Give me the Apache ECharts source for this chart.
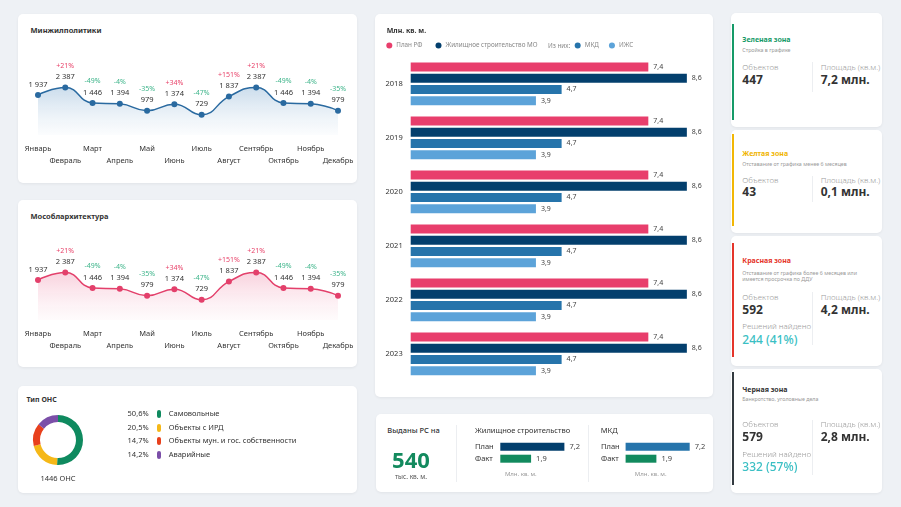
<!DOCTYPE html>
<html><head><meta charset="utf-8">
<script src="https://cdn.jsdelivr.net/npm/echarts@6/dist/echarts.min.js"></script>
<style>
html,body{margin:0;padding:0;width:901px;height:507px;overflow:hidden;background:#eef1f5;font-family:'Noto Sans',sans-serif;color:#333;}
.card{position:absolute;background:#fff;border-radius:5px;box-shadow:0 1px 3px rgba(0,0,0,0.06);}
.ch{position:absolute;}
</style></head>
<body>
<script>
// ---------- DATA ----------
const months = ['Январь','Февраль','Март','Апрель','Май','Июнь','Июль','Август','Сентябрь','Октябрь','Ноябрь','Декабрь'];
const minjilValues = [1937,2387,1446,1394,979,1374,729,1837,2387,1446,1394,979];
const minjilChanges = ['','+21%','-49%','-4%','-35%','+34%','-47%','+151%','+21%','-49%','-4%','-35%'];
const mosoblValues = [1937,2387,1446,1394,979,1374,729,1837,2387,1446,1394,979];
const mosoblChanges = ['','+21%','-49%','-4%','-35%','+34%','-47%','+151%','+21%','-49%','-4%','-35%'];

const onsNames = ['Самовольные','Объекты с ИРД','Объекты мун. и гос. собственности','Аварийные'];
const onsShares = [50.6,20.5,14.7,14.2];
const onsTotal = 1446;

const years = ['2018','2019','2020','2021','2022','2023'];
const planRF = [7.4,7.4,7.4,7.4,7.4,7.4];
const housingMO = [8.6,8.6,8.6,8.6,8.6,8.6];
const mkd = [4.7,4.7,4.7,4.7,4.7,4.7];
const izhs = [3.9,3.9,3.9,3.9,3.9,3.9];

const rsIssued = 540;
const pfLabels = ['План','Факт'];
const housingPlanFact = [7.2,1.9];
const mkdPlanFact = [7.2,1.9];

const zoneNames = ['Зеленая зона','Желтая зона','Красная зона','Черная зона'];
const zoneDescs = ['Стройка в графике','Отставание от графика менее 6 месяцев','Отставание от графика более 6 месяцев или\nимеется просрочка по ДДУ','Банкротство, уголовные дела'];
const zoneObjects = ['447','43','592','579'];
const zoneAreas = ['7,2 млн.','0,1 млн.','4,2 млн.','2,8 млн.'];
const zoneSolutions = ['','','244 (41%)','332 (57%)'];

// ---------- HELPERS ----------
const FF = "'Noto Sans',sans-serif";
function box(cls,x,y,w,h,extra){const d=document.createElement('div');d.className=cls;d.style.cssText+=`left:${x}px;top:${y}px;width:${w}px;height:${h}px;`+(extra||'');document.body.appendChild(d);return d;}
function T(x,y,txt,css,anchor){const d=document.createElement('div');d.textContent=txt;d.style.cssText='position:absolute;white-space:pre;line-height:1;'+(css||'');d.style.left=x+'px';d.style.top=y+'px';d.style.transform=`translate(${anchor==='c'?'-50%':anchor==='r'?'-100%':'0'},-50%)`;document.body.appendChild(d);return d;}
const fmtInt = v => String(v).replace(/\B(?=(\d{3})+(?!\d))/g,' ');
const fmtDec = v => String(v).replace('.',',');

// ---------- CARDS ----------
box('card',18,14,339,169);
box('card',18,200,339,167);
box('card',18,386,339,107);
box('card',375,14,338,383);
box('card',376,414,337,78);
const rc=[[13,127],[130,233],[236,366],[369,493]];
const rs=[[24,120],[134,226],[243,357],[372,485]];
const zoneColors=['#159a68','#f2b705','#e5352b','#333a40'];
rc.forEach((r,i)=>{box('card',731,r[0],151,r[1]-r[0]);box('ch',731.5,rs[i][0],2,rs[i][1]-rs[i][0],'background:'+zoneColors[i]+';');});

// ---------- LINE CHARTS ----------
function lineChart(top,h,vals,chg,color,aTop,aBot){
  const el=box('ch',18,top,339,h);
  const c=echarts.init(el,null,{renderer:'canvas'});
  c.setOption({
    animation:false,
    grid:{left:20,right:19,top:46,bottom:h-120},
    xAxis:{type:'category',boundaryGap:false,data:months,axisLine:{show:false},axisTick:{show:false},splitLine:{show:false},
      axisLabel:{interval:0,margin:8,fontSize:7.5,color:'#333',lineHeight:12,fontFamily:FF,formatter:(v,i)=>i%2?'\n'+v:v}},
    yAxis:{type:'value',min:-500,max:4000,show:false},
    series:[{type:'line',data:vals,smooth:0.5,symbol:'circle',symbolSize:6,
      itemStyle:{color:color},lineStyle:{color:color,width:1.5},
      areaStyle:{origin:'start',color:new echarts.graphic.LinearGradient(0,0,0,1,[{offset:0,color:aTop},{offset:1,color:aBot}])},
      label:{show:true,position:'top',distance:2,fontFamily:FF,
        formatter:p=>{const s=chg[p.dataIndex];const v='{v|'+fmtInt(p.value)+'}';if(!s)return v;return '{'+(s[0]==='+'?'up':'dn')+'|'+s+'}\n'+v;},
        rich:{v:{fontSize:7.5,color:'#333',lineHeight:11,fontFamily:FF},up:{fontSize:7,color:'#e8436a',lineHeight:11,fontFamily:FF},dn:{fontSize:7,color:'#3fb58b',lineHeight:11,fontFamily:FF}}}
    }]
  });
}
T(30.5,31,'Минжилполитики','font-size:7.5px;font-weight:700;color:#333;');
lineChart(15,168,minjilValues,minjilChanges,'#2a6aa0','rgba(120,165,205,0.55)','rgba(235,242,248,0.3)');
T(30.5,217,'Мособлархитектура','font-size:7.5px;font-weight:700;color:#333;');
lineChart(200,168,mosoblValues,mosoblChanges,'#e3406b','rgba(240,140,170,0.55)','rgba(252,236,241,0.3)');

// ---------- DONUT ----------
T(26.5,399,'Тип ОНС','font-size:7px;font-weight:700;color:#333;');
const onsColors=['#0f8a5f','#f5b818','#e8401c','#7b4fa8'];
{
  const el=box('ch',18,386,80,100);
  const c=echarts.init(el);
  c.setOption({animation:false,series:[{type:'pie',radius:[18,25],center:[40,54],startAngle:90,clockwise:true,label:{show:false},labelLine:{show:false},silent:true,
    data:onsNames.map((n,i)=>({name:n,value:onsShares[i],itemStyle:{color:onsColors[i]}}))}]});
}
T(58,479,onsTotal+' ОНС','font-size:7.5px;color:#333;','c');
const rowY=[414.3,427.7,441,455];
onsNames.forEach((n,i)=>{
  T(148.7,rowY[i],fmtDec(onsShares[i])+'%','font-size:7.5px;color:#333;','r');
  box('ch',156.8,rowY[i]-4,4.5,8,'background:'+onsColors[i]+';border-radius:2px;');
  T(168.7,rowY[i],n,'font-size:7.5px;color:#333;');
});

// ---------- BAR CHART ----------
{
  const el=box('ch',375,15,338,382);
  const c=echarts.init(el);
  const lbl={show:true,position:'right',distance:5,fontSize:7,color:'#444',fontFamily:FF,formatter:p=>fmtDec(p.value)};
  const mk=(name,data,color)=>({type:'bar',name:name,data:data,barWidth:9,barGap:'25%',itemStyle:{color:color},label:lbl,silent:true});
  c.setOption({
    animation:false,
    title:{text:'Млн. кв. м.',left:11.7,top:12.5,padding:0,textStyle:{fontSize:7,fontWeight:'bold',color:'#333',fontFamily:FF}},
    legend:[
      {data:['План РФ','Жилищное строительство МО'],left:11.3,top:27.5,padding:0,icon:'circle',itemWidth:6,itemHeight:6,itemGap:13,selectedMode:false,textStyle:{fontSize:6.3,color:'#888',fontFamily:FF,padding:[0,0,0,-1]}},
      {data:['МКД','ИЖС'],left:199.7,top:27.5,padding:0,icon:'circle',itemWidth:6,itemHeight:6,itemGap:10,selectedMode:false,textStyle:{fontSize:6.3,color:'#888',fontFamily:FF,padding:[0,0,0,-1]}}
    ],
    graphic:[{type:'text',left:173,top:28.5,style:{text:'Из них:',fontSize:6.3,fill:'#888',fontFamily:FF}}],
    grid:{left:35.7,right:13.3,top:41.8,bottom:16.2},
    xAxis:{type:'value',min:0,max:9,show:false},
    yAxis:{type:'category',data:years,inverse:true,axisLine:{show:false},axisTick:{show:false},axisLabel:{margin:8,fontSize:7.5,color:'#333',fontFamily:FF}},
    series:[mk('План РФ',planRF,'#e83e6c'),mk('Жилищное строительство МО',housingMO,'#033f6d'),mk('МКД',mkd,'#2674ab'),mk('ИЖС',izhs,'#5ca3d9')]
  });
}

// ---------- PLAN/FACT PANEL ----------
T(387.3,430.7,'Выданы РС на','font-size:7.5px;font-weight:500;color:#333;');
T(411,459,String(rsIssued),'font-size:22px;font-weight:700;color:#138a5e;','c');
T(411,476.5,'тыс. кв. м.','font-size:6.5px;color:#555;','c');
box('ch',456,425,1,57,'background:#eceef1;');
box('ch',588.3,425,1,57,'background:#eceef1;');
function pfChart(left,barStart,title,vals,planColor,unitX){
  T(left+5,430.7,title,'font-size:7.5px;color:#333;');
  const el=box('ch',left,436,118,30);
  const c=echarts.init(el);
  const colors=[planColor,'#128a5e'];
  c.setOption({
    animation:false,
    grid:{left:barStart-left,top:4.7,height:24,width:75.4},
    xAxis:{type:'value',min:-3,max:9,show:false},
    yAxis:{type:'category',data:pfLabels,inverse:true,axisLine:{show:false},axisTick:{show:false},
      axisLabel:{align:'left',margin:barStart-left-5,fontSize:7.5,color:'#333',fontFamily:FF}},
    series:[{type:'custom',silent:true,data:vals.map((v,i)=>[v,i]),encode:{x:0,y:1},
      renderItem:(params,api)=>{
        const v=api.value(0),i=api.value(1);
        const s=api.coord([-3,i]),e=api.coord([v,i]);
        const h=8;
        return {type:'group',children:[
          {type:'rect',shape:{x:s[0],y:s[1]-h/2,width:e[0]-s[0],height:h},style:{fill:colors[i]}},
          {type:'text',style:{text:fmtDec(v),x:e[0]+5,y:e[1],verticalAlign:'middle',fontSize:7.5,fill:'#444',fontFamily:FF}}
        ]};
      }}]
  });
  T(unitX,474,'Млн. кв. м.','font-size:6px;color:#999;','c');
}
pfChart(470,500.3,'Жилищное строительство',housingPlanFact,'#033f6d',520.8);
pfChart(595.7,625.3,'МКД',mkdPlanFact,'#2674ab',650.7);

// ---------- ZONES ----------
const zy=[
  {t:39,d:49.7,l:66.7,n:79.5,div:[62,92]},
  {t:152.7,d:163.7,l:180,n:192.3,div:[176,202]},
  {t:260,d:275.5,l:296.7,n:310,sl:325.7,sv:340,div:[292,345]},
  {t:389,d:399.3,l:424.3,n:437.3,sl:454.3,sv:467.3,div:[420,475]}
];
const titleColors=['#159a68','#f0b400','#e5352b','#333'];
zy.forEach((z,i)=>{
  T(742.3,z.t,zoneNames[i],'font-size:7px;font-weight:700;color:'+titleColors[i]+';');
  T(742.3,z.d,zoneDescs[i],'font-size:5.3px;color:#999;line-height:1.2;');
  T(742.3,z.l,'Объектов','font-size:8px;color:#9a9a9a;font-weight:300;');
  T(742.3,z.n,zoneObjects[i],'font-size:12px;font-weight:700;color:#333;');
  T(820.7,z.l,'Площадь (кв.м.)','font-size:8px;color:#9a9a9a;font-weight:300;');
  T(820.7,z.n,zoneAreas[i],'font-size:12px;font-weight:700;color:#333;');
  box('ch',811.7,z.div[0],1,z.div[1]-z.div[0],'background:#eceef1;');
  if(zoneSolutions[i]){
    T(742.3,z.sl,'Решений найдено','font-size:8px;color:#9a9a9a;font-weight:300;');
    T(742.3,z.sv,zoneSolutions[i],'font-size:12px;font-weight:500;color:#3bbfc4;');
  }
});
</script>
</body></html>
